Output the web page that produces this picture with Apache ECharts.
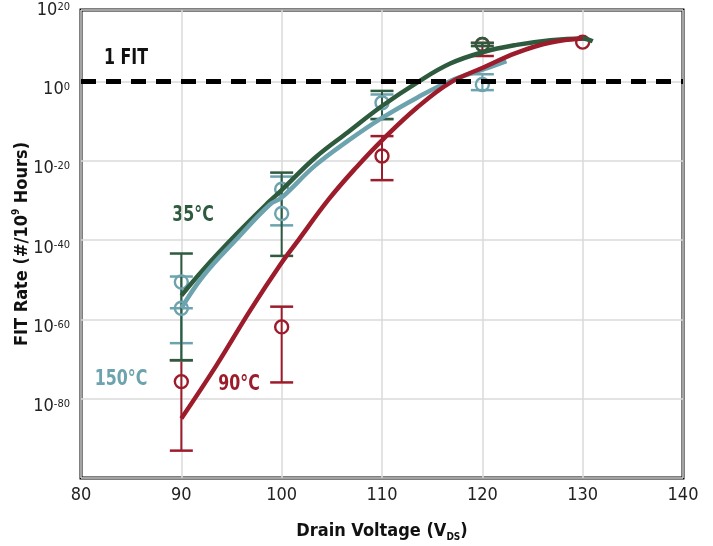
<!DOCTYPE html>
<html>
<head>
<meta charset="utf-8">
<script src="https://cdn.jsdelivr.net/npm/echarts@6/dist/echarts.min.js"></script>
<style>
  html, body { margin: 0; padding: 0; background: #fff; }
  #chart { width: 713px; height: 546px; }
</style>
</head>
<body>
<div id="chart"></div>
<script>
// FIT rate values are kept as log10 exponents (axis shows 10^n)
const voltageTicks = [80, 90, 100, 110, 120, 130, 140];

// fitted curves [V, log10 FIT]
const curve35 = [[90, -54], [92.2, -47.4], [95.5, -38.5], [98.8, -30.2], [100, -27.4], [103.3, -19.3],
  [106.6, -12.8], [110, -6.2], [113.5, -0.3], [116.8, 4.5], [120.1, 7.4], [123.4, 9.2],
  [126.8, 10.4], [130, 10.8], [131, 10.1]];
const curve150 = [[90, -57.2], [92.2, -49], [95.5, -39.8], [98.8, -31.1], [100, -29.3], [103.3, -21.3],
  [106.6, -15], [110, -9.2], [113.5, -4.1], [116.8, 0.1], [120.1, 3.0], [122.4, 5.1]];
const curve90 = [[90, -85], [93.5, -71.6], [96.85, -57.8], [99.84, -46.3], [101.5, -40.6], [104.7, -29.7],
  [107.5, -21.5], [110.1, -14.6], [113.5, -6.6], [116.8, -0.3], [120.1, 3.5], [123.4, 7.2],
  [126.8, 9.8], [130, 10.8]];

// measured points [V, log10 FIT]
const pts35 = [[120, 9.3]];
const pts150 = [[90, -50.6], [90, -57.2], [100, -27.2], [100, -33.3], [110, -5.4], [120, -0.8]];
const pts90 = [[90, -75.7], [100, -61.9], [110, -18.8], [120, 9.3], [130, 9.9]];

// error bars [V, low, high]
const bars35 = [[90, -70.3, -43.4], [100, -44.0, -23.0], [110, -9.5, -2.4], [120, 8.9, 9.7]];
const bars150 = [[90, -66.0, -49.2], [90, -70.3, -57.2], [100, -36.3, -24.0], [110, -9.5, -3.3], [120, -2.2, 1.8]];
const bars90 = [[90, -93.1, -70.3], [100, -75.9, -56.8], [110, -24.9, -13.8], [120, 6.4, 9.7]];

// 1 FIT reference level
const fitLevel = [[80, 0], [140, 0]];

const GREEN = '#2e5a3e';
const CYAN = '#6ca3ae';
const RED = '#9d1c2b';
const FONT = "'DejaVu Sans Condensed', 'Liberation Sans', sans-serif";

function errorBar(color) {
  return function (params, api) {
    const x = api.value(0);
    const lo = api.coord([x, api.value(1)]);
    const hi = api.coord([x, api.value(2)]);
    const w = 11.5;
    const capStyle = { stroke: color, lineWidth: 2.5 };
    return {
      type: 'group',
      children: [
        { type: 'line', shape: { x1: lo[0], y1: lo[1], x2: hi[0], y2: hi[1] }, style: { stroke: color, lineWidth: 2 } },
        { type: 'line', shape: { x1: lo[0] - w, y1: lo[1], x2: lo[0] + w, y2: lo[1] }, style: capStyle },
        { type: 'line', shape: { x1: hi[0] - w, y1: hi[1], x2: hi[0] + w, y2: hi[1] }, style: capStyle }
      ]
    };
  };
}

function barSeries(data, color) {
  return {
    type: 'custom',
    renderItem: errorBar(color),
    encode: { x: 0, y: [1, 2] },
    data: data,
    silent: true
  };
}

function curveSeries(data, color) {
  return {
    type: 'line',
    data: data,
    smooth: 0.4,
    showSymbol: false,
    lineStyle: { color: color, width: 4.5 },
    silent: true
  };
}

function pointSeries(data, color) {
  return {
    type: 'scatter',
    data: data,
    symbol: 'circle',
    symbolSize: 13,
    itemStyle: { color: 'rgba(0,0,0,0)', borderColor: color, borderWidth: 2.4, opacity: 1 },
    silent: true
  };
}

function note(text, x, y, color) {
  return {
    type: 'text', x: x, y: y, scaleX: 0.8,
    style: { text: text, font: 'bold 22px ' + FONT, fill: color, align: 'center', verticalAlign: 'middle' }
  };
}

const chart = echarts.init(document.getElementById('chart'));
chart.setOption({
  animation: false,
  backgroundColor: '#fff',
  grid: {
    left: 81, right: 30, top: 10, bottom: 68,
    show: true, borderColor: '#000', borderWidth: 3,
    outerBoundsMode: 'none'
  },
  xAxis: {
    type: 'value',
    min: voltageTicks[0],
    max: voltageTicks[voltageTicks.length - 1],
    interval: 10,
    axisLine: { show: false },
    axisTick: { show: false },
    splitLine: { show: true, lineStyle: { color: '#dadada', width: 1.5 } },
    axisLabel: { color: '#222', fontFamily: FONT, fontSize: 18, margin: 8 },
    name: '{n|Drain Voltage (V}{d|DS}{n|)}',
    nameLocation: 'middle',
    nameGap: 42,
    nameMoveOverlap: false,
    nameTextStyle: {
      rich: {
        n: { fontFamily: FONT, fontWeight: 'bold', fontSize: 18, color: '#111', lineHeight: 22 },
        d: { fontFamily: FONT, fontWeight: 'bold', fontSize: 10, color: '#111', lineHeight: 12, verticalAlign: 'bottom' }
      }
    }
  },
  yAxis: {
    type: 'value',
    min: -100,
    max: 18,
    interval: 20,
    axisLine: { show: false },
    axisTick: { show: false },
    splitLine: { show: true, lineStyle: { color: '#dadada', width: 1.5 } },
    axisLabel: {
      margin: 11,
      showMaxLabel: true,
      lineHeight: 16,
      fontSize: 18,
      fontFamily: FONT,
      color: '#222',
      formatter: function (v) {
        if (v <= -100) return '';
        if (v >= 18) return '{b|10}{s|20}';
        return '\n{b|10}{s|' + v + '}';
      },
      rich: {
        b: { fontFamily: FONT, fontSize: 18, color: '#222', lineHeight: 16 },
        s: { fontFamily: FONT, fontSize: 11, color: '#222', lineHeight: 10, verticalAlign: 'top' }
      }
    },
    name: '{n|FIT Rate (#/10}{s|9}{n| Hours)}',
    nameLocation: 'middle',
    nameGap: 48,
    nameMoveOverlap: false,
    nameTextStyle: {
      rich: {
        n: { fontFamily: FONT, fontWeight: 'bold', fontSize: 18, color: '#111', lineHeight: 22 },
        s: { fontFamily: FONT, fontWeight: 'bold', fontSize: 10, color: '#111', lineHeight: 12, verticalAlign: 'top' }
      }
    }
  },
  series: [
    barSeries(bars90, RED),
    barSeries(bars150, CYAN),
    barSeries(bars35, GREEN),
    curveSeries(curve35, GREEN),
    curveSeries(curve150, CYAN),
    curveSeries(curve90, RED),
    pointSeries(pts90, RED),
    pointSeries(pts35, GREEN),
    pointSeries(pts150, CYAN),
    {
      type: 'line',
      data: fitLevel,
      showSymbol: false,
      lineStyle: { color: '#000', width: 5, type: [15, 10] },
      z: 5,
      silent: true
    }
  ],
  graphic: [
    note('1 FIT', 126, 58, '#111'),
    note('35°C', 193, 215, GREEN),
    note('150°C', 121, 379, CYAN),
    note('90°C', 239, 384, RED)
  ]
});
</script>
</body>
</html>
